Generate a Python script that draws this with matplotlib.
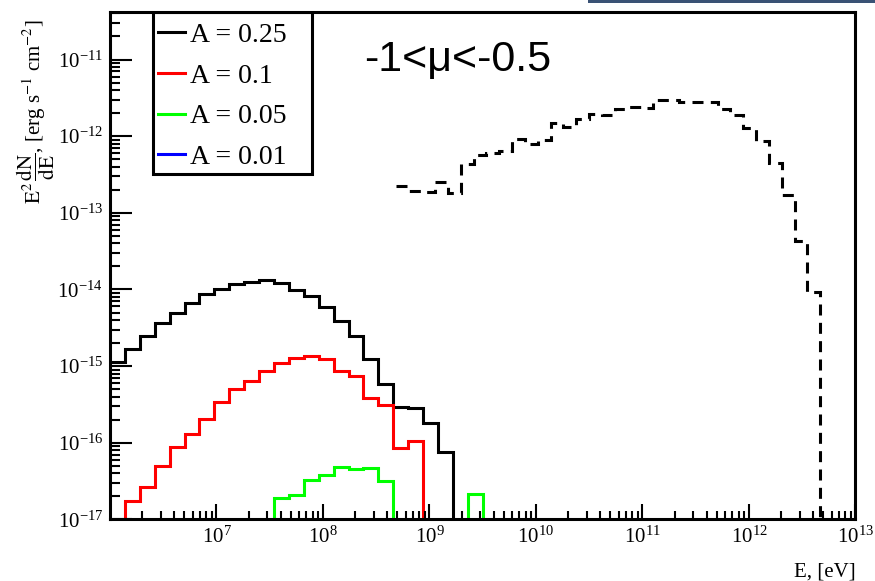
import numpy as np
import matplotlib
matplotlib.use('Agg')
from matplotlib import pyplot as plt
from matplotlib.patches import Rectangle
from matplotlib.ticker import FixedLocator, LogLocator, NullFormatter

plt.rcParams['font.family'] = ['Liberation Serif', 'DejaVu Serif']
plt.rcParams['mathtext.fontset'] = 'stix'

# 50 log bins from 1e6 to 1e13 eV
edges = np.logspace(6, 13, 51)

labels = ['A = 0.25', 'A = 0.1', 'A = 0.05', 'A = 0.01']
colors = ['black', '#ff0000', '#00ff00', '#0000ff']

a025 = [1.13e-15, 1.65e-15, 2.46e-15, 3.6e-15, 4.95e-15, 6.56e-15, 8.6e-15,
        1.02e-14, 1.17e-14, 1.27e-14, 1.32e-14, 1.2e-14, 9.8e-15, 8.2e-15,
        5.9e-15, 3.9e-15, 2.5e-15, 1.23e-15, 5.8e-16, 2.94e-16, 2.81e-16,
        1.79e-16, 7.5e-17] + [0] * 27
a01 = [0, 1.75e-17, 2.62e-17, 5.0e-17, 8.9e-17, 1.3e-16, 2.02e-16, 3.43e-16,
       5.1e-16, 6.4e-16, 8.6e-16, 1.1e-15, 1.26e-15, 1.35e-15, 1.22e-15,
       8.6e-16, 7.4e-16, 3.83e-16, 3.1e-16, 8.5e-17, 1.06e-16] + [0] * 29
a005 = [0] * 11 + [1.92e-17, 2.08e-17, 3.27e-17, 3.8e-17, 4.86e-17, 4.5e-17,
                   4.72e-17, 3.17e-17, 0, 0, 0, 0, 0, 2.12e-17] + [0] * 25
a001 = [0] * 50

# dashed curve has its own binning
edges_d = np.logspace(8.69, 12.67, 34)
dashed = [2.22e-13, 1.93e-13, 1.88e-13, 2.53e-13, 1.82e-13, 4.3e-13, 5.64e-13,
          5.98e-13, 6.41e-13, 9.3e-13, 7.83e-13, 8.97e-13, 1.47e-12, 1.32e-12,
          1.66e-12, 1.97e-12, 1.91e-12, 2.25e-12, 2.4e-12, 2.34e-12, 3.0e-12,
          2.94e-12, 2.79e-12, 2.79e-12, 2.79e-12, 2.29e-12, 1.87e-12, 1.26e-12,
          8.6e-13, 4.4e-13, 1.73e-13, 4.3e-14, 9.2e-15]

floor = 1e-30  # empty bins go off the bottom of the log axis

fig = plt.figure(figsize=(8.75, 5.81), dpi=100)
ax = fig.add_axes([0.1257, 0.106, 0.852, 0.8738])
ax.set_xscale('log')
ax.set_yscale('log')

for vals, c, lab in zip([a025, a01, a005, a001], colors, labels):
    v = np.array(vals, dtype=float)
    v[v <= 0] = floor
    ax.stairs(v, edges, baseline=None, color=c, lw=2.2, label=lab)

vd = np.array(dashed + [floor])
ed = np.append(edges_d, edges_d[-1] * 1.5)
ax.stairs(vd, ed, baseline=None, color='black', lw=2.2, linestyle=(0, (3.6, 2.4)))

ax.set_xlim(1e6, 1e13)
ax.set_ylim(1e-17, 4.2e-11)

ax.xaxis.set_major_locator(FixedLocator([1e7, 1e8, 1e9, 1e10, 1e11, 1e12, 1e13]))
ax.xaxis.set_minor_locator(LogLocator(base=10, subs=np.arange(2, 10), numticks=30))
ax.xaxis.set_minor_formatter(NullFormatter())
ax.yaxis.set_major_locator(LogLocator(base=10, numticks=30))
ax.yaxis.set_minor_locator(LogLocator(base=10, subs=np.arange(2, 10), numticks=30))
ax.yaxis.set_minor_formatter(NullFormatter())

ax.tick_params(axis='both', which='both', direction='in', top=False, right=False,
               width=1.5, labelsize=15)
ax.tick_params(axis='x', which='major', length=11, pad=5)
ax.tick_params(axis='x', which='minor', length=6)
ax.tick_params(axis='y', which='major', length=16, pad=5)
ax.tick_params(axis='y', which='minor', length=7)
for s in ax.spines.values():
    s.set_linewidth(2.2)

ax.set_xlabel('E, [eV]', fontsize=15, loc='right')
ax.xaxis.set_label_coords(1.0, -0.085)
ax.set_ylabel(r'$\mathrm{E}^{2}\,\dfrac{\mathrm{dN}}{\mathrm{dE}}$, [erg s$^{-1}$ cm$^{-2}$]',
              fontsize=15, loc='top')
ax.yaxis.set_label_coords(-0.071, 0.985)

ax.text(0.341, 0.905, '-1<\u03bc<-0.5', transform=ax.transAxes, fontsize=31,
        family='Liberation Sans', va='center', ha='left')

# legend box
ax.add_patch(Rectangle((0.0573, 0.6803), 0.2133, 0.3197, transform=ax.transAxes,
                       fill=False, lw=2.2, ec='black', zorder=5))
ax.legend(loc='upper left', bbox_to_anchor=(0.064, 0.979), frameon=False,
          fontsize=20, handlelength=1.0, handletextpad=0.15, borderpad=0,
          borderaxespad=0, labelspacing=0.55)

fig.add_artist(Rectangle((588 / 875, 1 - 3 / 581), 1 - 588 / 875, 3 / 581,
                         transform=fig.transFigure, color='#3a5275', lw=0))

fig.savefig('out.png', dpi=100)
